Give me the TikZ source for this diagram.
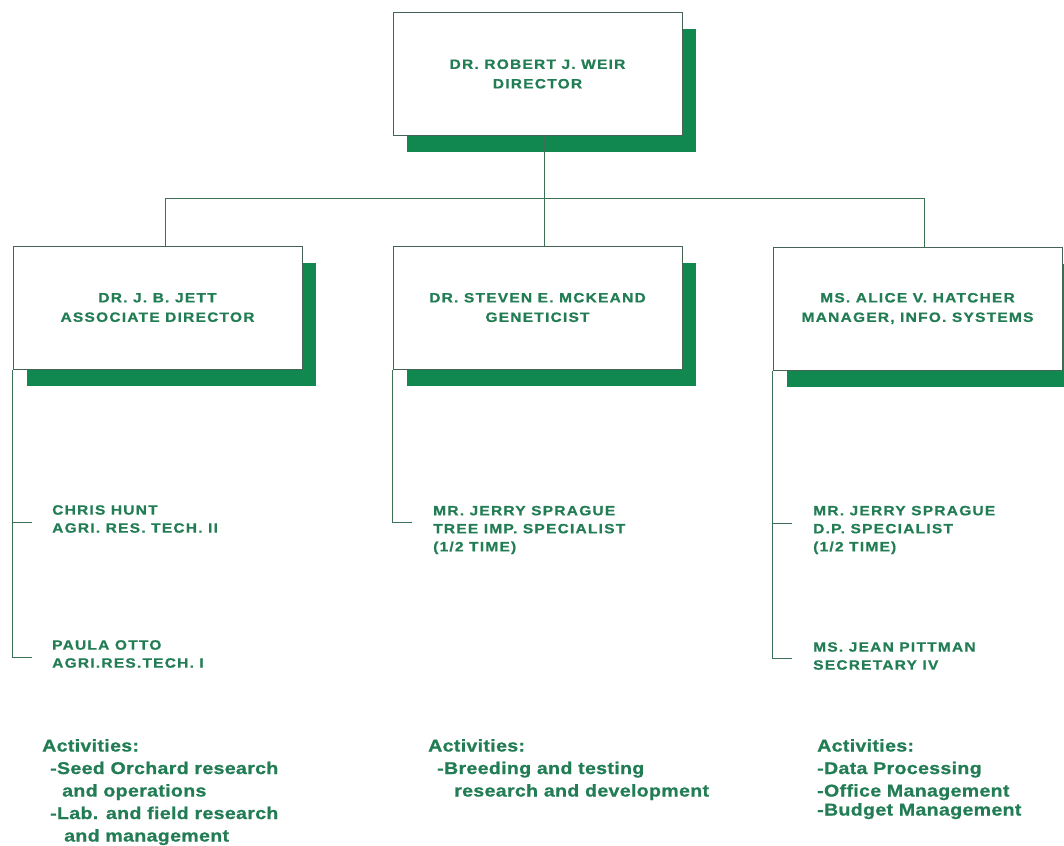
\documentclass[tikz,border=0pt]{standalone}
\usepackage{fontspec}
\setmainfont{Liberation Sans}[FakeStretch=1.15,LetterSpace=9,BoldFeatures={FakeBold=0.7}]
\newfontfamily\actfont{Liberation Sans}[FakeStretch=1.15,LetterSpace=2,BoldFeatures={FakeBold=0.9}]
\usetikzlibrary{shadows,calc}
\definecolor{textgreen}{RGB}{34,124,84}
\definecolor{shadowgreen}{RGB}{16,136,80}
\definecolor{boxline}{RGB}{70,100,85}
\definecolor{linecol}{RGB}{60,112,86}
\begin{document}
\begin{tikzpicture}[x=1pt,y=-1pt,
  boss/.style={draw=boxline, line width=1pt, fill=white, minimum width=289pt,
    minimum height=123pt, inner sep=0pt, align=center, text=textgreen,
    font=\fontsize{13.5}{19.5}\selectfont\bfseries,
    drop shadow={shadow xshift=14pt, shadow yshift=-17pt, fill=shadowgreen, opacity=1}},
  staff/.style={anchor=west, inner sep=0pt, align=left, text=textgreen,
    font=\fontsize{13.5}{18}\selectfont\bfseries},
  act/.style={anchor=north west, inner sep=0pt, align=left, text=textgreen,
    font=\actfont\fontsize{17}{22.5}\selectfont\bfseries},
  conn/.style={draw=linecol, line width=1pt}]
\useasboundingbox (0,0) rectangle (1064,845);

% boxes
\node[boss] (weir) at (537.5,74) {DR. ROBERT J. WEIR\\DIRECTOR};
\node[boss] (jett) at (157.5,307.5) {DR. J. B. JETT\\ASSOCIATE DIRECTOR};
\node[boss] (mck) at (537.5,307.5) {DR. STEVEN E. MCKEAND\\GENETICIST};
\node[boss] (hat) at (917.5,308.5) {MS. ALICE V. HATCHER\\MANAGER, INFO. SYSTEMS};

% bus
\coordinate (bL) at (165,198);
\coordinate (bM) at (544,198);
\coordinate (bR) at (924,198);
\draw[conn] (bM) -- (bM |- weir.south);
\draw[conn] (bL) -- (bR);
\draw[conn] (bL) -- (bL |- jett.north);
\draw[conn] (bM) -- (bM |- mck.north);
\draw[conn] (bR) -- (bR |- hat.north);

% staff
\node[staff] (hunt) at (52,519) {CHRIS HUNT\\AGRI. RES. TECH. II};
\node[staff] (otto) at (52,654) {PAULA OTTO\\AGRI.RES.TECH. I};
\node[staff] (spr1) at (433,530) {MR. JERRY SPRAGUE\\TREE IMP. SPECIALIST\\(1/2 TIME)};
\node[staff] (spr2) at (813,530) {MR. JERRY SPRAGUE\\D.P. SPECIALIST\\(1/2 TIME)};
\node[staff] (pitt) at (813,656) {MS. JEAN PITTMAN\\SECRETARY IV};

\coordinate (tL1) at (32,522);
\coordinate (tL2) at (32,657);
\coordinate (tM1) at (412,522);
\coordinate (tR1) at (792,523);
\coordinate (tR2) at (792,658);
\draw[conn] (jett.south west) |- (tL2);
\draw[conn] (tL1 -| jett.south west) -- (tL1);
\draw[conn] (mck.south west) |- (tM1);
\draw[conn] (hat.south west) |- (tR2);
\draw[conn] (tR1 -| hat.south west) -- (tR1);

% activities
\node[act] (actL) at (42,739) {Activities:\\\hspace*{8pt}-Seed Orchard research\\\hspace*{20pt}and operations\\\hspace*{8pt}-Lab. and field research\\\hspace*{22pt}and management};
\node[act] (actM) at (428,739) {Activities:\\\hspace*{9pt}-Breeding and testing\\\hspace*{26pt}research and development};
\node[act] (actR) at (817,739) {Activities:\\-Data Processing\\[0pt]-Office Management\\[-3.5pt]-Budget Management};
\end{tikzpicture}
\end{document}
